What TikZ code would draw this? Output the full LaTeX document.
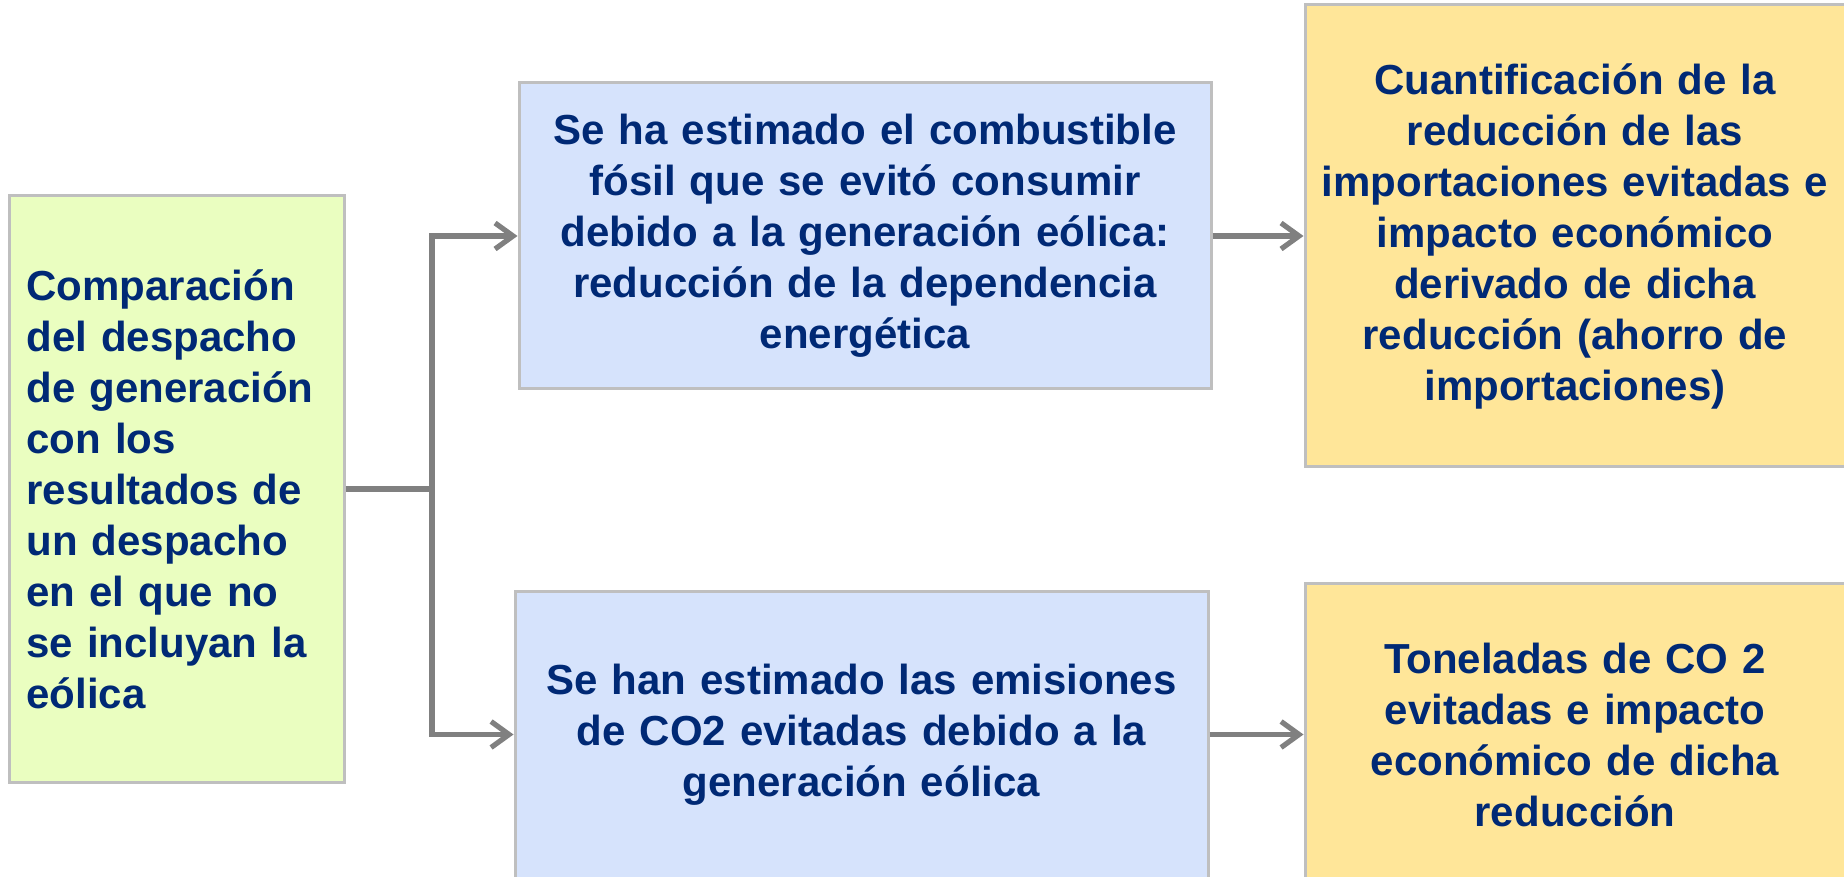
\documentclass[tikz,border=0pt]{standalone}
\usepackage{fontspec}
\setmainfont{Liberation Sans}
\usepackage{xcolor}
\usepackage{tikz}
\usetikzlibrary{arrows.meta, positioning}

\definecolor{textnavy}{RGB}{0,41,117}
\definecolor{greenfill}{RGB}{234,254,192}
\definecolor{bluefill}{RGB}{214,227,252}
\definecolor{yellowfill}{RGB}{255,230,153}
\definecolor{boxline}{RGB}{191,191,191}
\definecolor{arrowgray}{RGB}{128,128,128}

\begin{document}
\begin{tikzpicture}[
    box/.style={rectangle, draw=boxline, line width=1.5pt, inner sep=0pt, text=textnavy, align=center, font=\fontsize{21}{25.5}\selectfont\bfseries},
    arrow/.style={-{Straight Barb[length=9pt, width=13pt]}, line width=2.6pt, draw=arrowgray}
]
    \useasboundingbox (0,0) rectangle (922pt,-438.5pt);

    \node [box, fill=greenfill, align=left, text width=150pt, minimum width=167.5pt, minimum height=293pt] (comp) at (88.25pt,-244.5pt)
        {Comparación\\del despacho\\de generación\\con los\\resultados de\\un despacho\\en el que no\\se incluyan la\\eólica};
    \node [box, fill=bluefill, text width=330pt, minimum width=346pt, minimum height=153pt] (fuel) at (432.5pt,-118pt)
        {Se ha estimado el combustible\\fósil que se evitó consumir\\debido a la generación eólica:\\reducción de la dependencia\\energética};
    \node [box, fill=yellowfill, text width=265pt, minimum width=270pt, minimum height=231pt, right=45.5pt of fuel] (imports)
        {Cuantificación de la\\reducción de las\\importaciones evitadas e\\impacto económico\\derivado de dicha\\reducción (ahorro de\\importaciones)};
    \node [box, fill=bluefill, text width=330pt, minimum width=346.5pt, minimum height=143.5pt, below=99.5pt of fuel, xshift=-1.75pt] (co2)
        {Se han estimado las emisiones\\de CO2 evitadas debido a la\\generación eólica};
    \node [box, fill=yellowfill, text width=265pt, minimum width=270pt, minimum height=151pt, right=47pt of co2] (tons)
        {Toneladas de CO 2\\evitadas e impacto\\económico de dicha\\reducción};

    \coordinate (fork) at (216pt,-244.5pt);

    \draw [arrow, -] (comp.east) -- (fork);
    \draw [arrow] (fork) |- (fuel.west);
    \draw [arrow] (fork) |- (co2.west);
    \draw [arrow] (fuel) -- (imports);
    \draw [arrow] (co2) -- (tons);
\end{tikzpicture}
\end{document}
